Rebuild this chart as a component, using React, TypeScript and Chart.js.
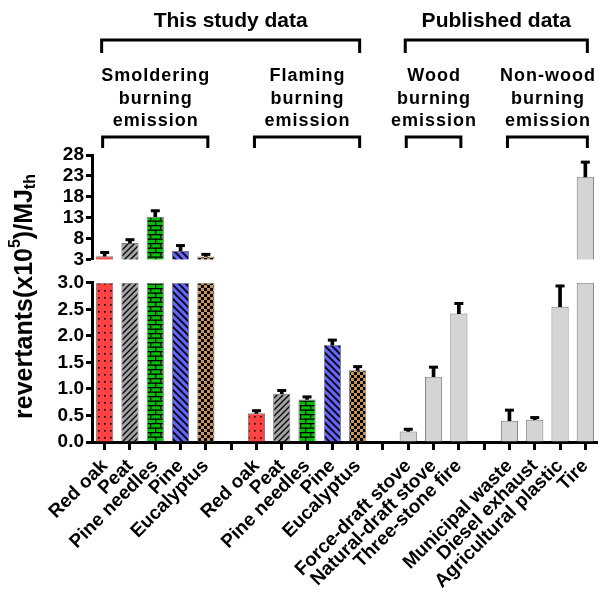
import React, { useEffect, useRef } from 'react';
import { Chart, registerables } from 'chart.js';

Chart.register(...registerables);

const FONT = '"Liberation Sans", Arial, Helvetica, sans-serif';

// ---- data ----
const categories = [
  'Red oak', 'Peat', 'Pine needles', 'Pine', 'Eucalyptus', '',
  'Red oak', 'Peat', 'Pine needles', 'Pine', 'Eucalyptus', '',
  'Force-draft stove', 'Natural-draft stove', 'Three-stone fire', '',
  'Municipal waste', 'Diesel exhaust', 'Agricultural plastic', 'Tire',
];
const means = [
  3.85, 7.0, 13.3, 5.1, 3.8, null,
  0.54, 0.91, 0.80, 1.83, 1.35, null,
  0.20, 1.23, 2.42, null,
  0.40, 0.42, 2.55, 22.8,
];
const errors = [
  0.9, 0.8, 1.4, 1.3, 0.5, null,
  0.05, 0.06, 0.05, 0.09, 0.07, null,
  0.04, 0.18, 0.19, null,
  0.2, 0.04, 0.39, 3.5,
];
const fillKinds = [
  'dots', 'fwd', 'brick', 'back', 'check', null,
  'dots', 'fwd', 'brick', 'back', 'check', null,
  'plain', 'plain', 'plain', null,
  'plain', 'plain', 'plain', 'plain',
];
const breakValue = 3;
const lowerTicks = [0, 0.5, 1, 1.5, 2, 2.5, 3];
const upperTicks = [3, 8, 13, 18, 23, 28];
const topGroups = [
  { label: 'This study data', from: 0, to: 10 },
  { label: 'Published data', from: 12, to: 19 },
];
const subGroups = [
  { lines: ['Smoldering', 'burning', 'emission'], from: 0, to: 4 },
  { lines: ['Flaming', 'burning', 'emission'], from: 6, to: 10 },
  { lines: ['Wood', 'burning', 'emission'], from: 12, to: 14 },
  { lines: ['Non-wood', 'burning', 'emission'], from: 16, to: 19 },
];
const yTitleParts = [
  { text: 'revertants(x10', kind: 'n' },
  { text: '5', kind: 'sup' },
  { text: ')/MJ', kind: 'n' },
  { text: 'th', kind: 'sub' },
];

function makePattern(kind: string | null): any {
  if (!kind) return 'rgba(0,0,0,0)';
  if (kind === 'plain') return '#d4d4d4';
  const c = document.createElement('canvas');
  const g = c.getContext('2d') as CanvasRenderingContext2D;
  if (kind === 'dots') {
    c.width = 6; c.height = 7;
    g.fillStyle = '#ff4242'; g.fillRect(0, 0, 6, 7);
    g.fillStyle = '#000'; g.fillRect(2, 3, 1.6, 1.6);
  } else if (kind === 'fwd') {
    c.width = 6; c.height = 6;
    g.fillStyle = '#a3a3a3'; g.fillRect(0, 0, 6, 6);
    g.strokeStyle = '#000'; g.lineWidth = 1.3;
    g.beginPath();
    g.moveTo(-1, 7); g.lineTo(7, -1);
    g.moveTo(-1, 1); g.lineTo(1, -1);
    g.moveTo(5, 7); g.lineTo(7, 5);
    g.stroke();
  } else if (kind === 'back') {
    c.width = 7; c.height = 7;
    g.fillStyle = '#6464ff'; g.fillRect(0, 0, 7, 7);
    g.strokeStyle = '#000'; g.lineWidth = 1.8;
    g.beginPath();
    g.moveTo(-1, -1); g.lineTo(8, 8);
    g.moveTo(-1, 6); g.lineTo(1, 8);
    g.moveTo(6, -1); g.lineTo(8, 1);
    g.stroke();
  } else if (kind === 'brick') {
    c.width = 10; c.height = 9;
    g.fillStyle = '#00c000'; g.fillRect(0, 0, 10, 9);
    g.fillStyle = '#000';
    g.fillRect(0, 0, 10, 1.3);
    g.fillRect(0, 4.5, 10, 1.3);
    g.fillRect(0, 0, 1.3, 4.5);
    g.fillRect(5, 4.5, 1.3, 4.5);
  } else if (kind === 'check') {
    c.width = 6; c.height = 6;
    g.fillStyle = '#c99550'; g.fillRect(0, 0, 6, 6);
    g.fillStyle = '#000';
    g.fillRect(0, 0, 3, 3); g.fillRect(3, 3, 3, 3);
  }
  return g.createPattern(c, 'repeat');
}

const annotationPlugin = {
  id: 'annotations',
  afterDraw(chart: any) {
    const { ctx, chartArea } = chart;
    const xs = chart.scales.x;
    const top = chartArea.top;
    ctx.save();
    ctx.fillStyle = '#000';
    ctx.strokeStyle = '#000';
    ctx.lineWidth = 3;
    ctx.lineJoin = 'miter';
    ctx.textAlign = 'center';
    ctx.textBaseline = 'alphabetic';
    const bracket = (x0: number, x1: number, yTop: number, yBot: number) => {
      ctx.beginPath();
      ctx.moveTo(x0, yBot);
      ctx.lineTo(x0, yTop);
      ctx.lineTo(x1, yTop);
      ctx.lineTo(x1, yBot);
      ctx.stroke();
    };
    for (const g of topGroups) {
      const x0 = xs.getPixelForValue(g.from) - 3;
      const x1 = xs.getPixelForValue(g.to) + 2;
      ctx.font = `bold 21px ${FONT}`;
      ctx.fillText(g.label, (x0 + x1) / 2, top - 128);
      bracket(x0, x1, top - 115, top - 102);
    }
    for (const g of subGroups) {
      const x0 = xs.getPixelForValue(g.from) - 2;
      const x1 = xs.getPixelForValue(g.to) + 2;
      ctx.font = `bold 18px ${FONT}`;
      (ctx as any).letterSpacing = '1px';
      g.lines.forEach((t, i) => {
        ctx.fillText(t, (x0 + x1) / 2 + 0.5, top - 74 + i * 22.5);
      });
      (ctx as any).letterSpacing = '0px';
      bracket(x0, x1, top - 18, top - 7);
    }
    // y-axis title with superscript / subscript
    const cx = 25;
    const cy = (chartArea.top + chartArea.bottom) / 2 - 2;
    ctx.translate(cx, cy);
    ctx.rotate(-Math.PI / 2);
    const fontFor = (k: string) => (k === 'n' ? `bold 25px ${FONT}` : `bold 16px ${FONT}`);
    let total = 0;
    for (const p of yTitleParts) { ctx.font = fontFor(p.kind); total += ctx.measureText(p.text).width; }
    let x = -total / 2;
    ctx.textAlign = 'left';
    ctx.textBaseline = 'middle';
    for (const p of yTitleParts) {
      ctx.font = fontFor(p.kind);
      const dy = p.kind === 'sup' ? -9 : p.kind === 'sub' ? 6 : 0;
      ctx.fillText(p.text, x, dy);
      x += ctx.measureText(p.text).width;
    }
    ctx.restore();
  },
};

export default function App() {
  const ref = useRef<HTMLCanvasElement | null>(null);
  useEffect(() => {
    if (!ref.current) return;
    const fills = fillKinds.map(makePattern);
    const borders = fillKinds.map(k => (k ? '#7a7a7a' : 'rgba(0,0,0,0)'));
    const lowData = means.map(v => (v == null ? null : Math.min(v, breakValue)));
    const highData = means.map(v => (v != null && v > breakValue ? [breakValue, v] : null));
    const stemLow = means.map((v, i) => (v != null && v <= breakValue ? [v, v + (errors[i] as number)] : null));
    const stemHigh = means.map((v, i) => (v != null && v > breakValue ? [v, v + (errors[i] as number)] : null));
    const capLow = means.map((v, i) => (v != null && v <= breakValue ? v + (errors[i] as number) : null));
    const capHigh = means.map((v, i) => (v != null && v > breakValue ? v + (errors[i] as number) : null));

    const tickFont = { size: 19, weight: 'bold' as const, family: FONT };
    const yCommon = (w: number) => ({
      type: 'linear' as const,
      position: 'left' as const,
      stack: 'y',
      grid: { drawOnChartArea: false, drawTicks: true, tickLength: 6, tickWidth: 3, tickColor: '#000', color: '#000' },
      border: { color: '#000', width: 3 },
      afterFit: (s: any) => { s.width = w; },
    });

    const chart = new Chart(ref.current, {
      type: 'bar',
      data: {
        labels: categories,
        datasets: [
          {
            type: 'bar', data: lowData as any, yAxisID: 'yLow', backgroundColor: fills, borderColor: borders,
            borderWidth: 1, grouped: false, barPercentage: 0.68, categoryPercentage: 1, order: 4,
          },
          {
            type: 'bar', data: highData as any, yAxisID: 'yHigh', backgroundColor: fills, borderColor: borders,
            borderWidth: 1, grouped: false, barPercentage: 0.68, categoryPercentage: 1, order: 4,
          },
          {
            type: 'bar', data: stemLow as any, yAxisID: 'yLow', backgroundColor: '#000', borderWidth: 0,
            barThickness: 3, grouped: false, order: 2,
          },
          {
            type: 'bar', data: stemHigh as any, yAxisID: 'yHigh', backgroundColor: '#000', borderWidth: 0,
            barThickness: 3, grouped: false, order: 2,
          },
          {
            type: 'line', data: capLow as any, yAxisID: 'yLow', showLine: false, pointStyle: 'line',
            pointRadius: 4.5, pointBorderWidth: 3, pointBorderColor: '#000', borderColor: '#000', order: 1,
            clip: false,
          },
          {
            type: 'line', data: capHigh as any, yAxisID: 'yHigh', showLine: false, pointStyle: 'line',
            pointRadius: 4.5, pointBorderWidth: 3, pointBorderColor: '#000', borderColor: '#000', order: 1,
            clip: false,
          },
        ],
      },
      options: {
        responsive: false,
        animation: false,
        devicePixelRatio: 1,
        layout: { autoPadding: false, padding: { top: 155, left: 0, right: 0, bottom: 0 } },
        plugins: { legend: { display: false }, tooltip: { enabled: false } },
        scales: {
          x: {
            type: 'category',
            offset: true,
            grid: { offset: false, drawOnChartArea: false, drawTicks: true, tickLength: 8, tickWidth: 3, tickColor: '#000', color: '#000' },
            border: { color: '#000', width: 3 },
            ticks: { autoSkip: false, minRotation: 45, maxRotation: 45, color: '#000', font: { size: 19, weight: 'bold', family: FONT }, padding: 5 },
            afterFit: (s: any) => { s.height = 154; s.paddingRight = 0; s.paddingLeft = 0; },
          },
          yHigh: {
            ...yCommon(92),
            stackWeight: 105,
            weight: 3,
            min: upperTicks[0],
            max: upperTicks[upperTicks.length - 1],
            afterBuildTicks: (s: any) => { s.ticks = upperTicks.map(value => ({ value })); },
            ticks: { autoSkip: false, color: '#000', font: tickFont, padding: 2 },
          },
          yGap: {
            type: 'linear', position: 'left', stack: 'y', stackWeight: 23, weight: 2, display: false,
          },
          yLow: {
            ...yCommon(92),
            stackWeight: 159.5,
            weight: 1,
            min: lowerTicks[0],
            max: lowerTicks[lowerTicks.length - 1],
            afterBuildTicks: (s: any) => { s.ticks = lowerTicks.map(value => ({ value })); },
            ticks: { autoSkip: false, color: '#000', font: tickFont, padding: 2, callback: (v: any) => Number(v).toFixed(1) },
          },
        } as any,
      },
      plugins: [annotationPlugin],
    } as any);
    return () => chart.destroy();
  }, []);

  return (
    <div style={{ position: 'absolute', left: 0, top: 0, width: 598, height: 596, background: '#fff' }}>
      <canvas ref={ref} width={598} height={596} style={{ display: 'block' }} />
    </div>
  );
}
